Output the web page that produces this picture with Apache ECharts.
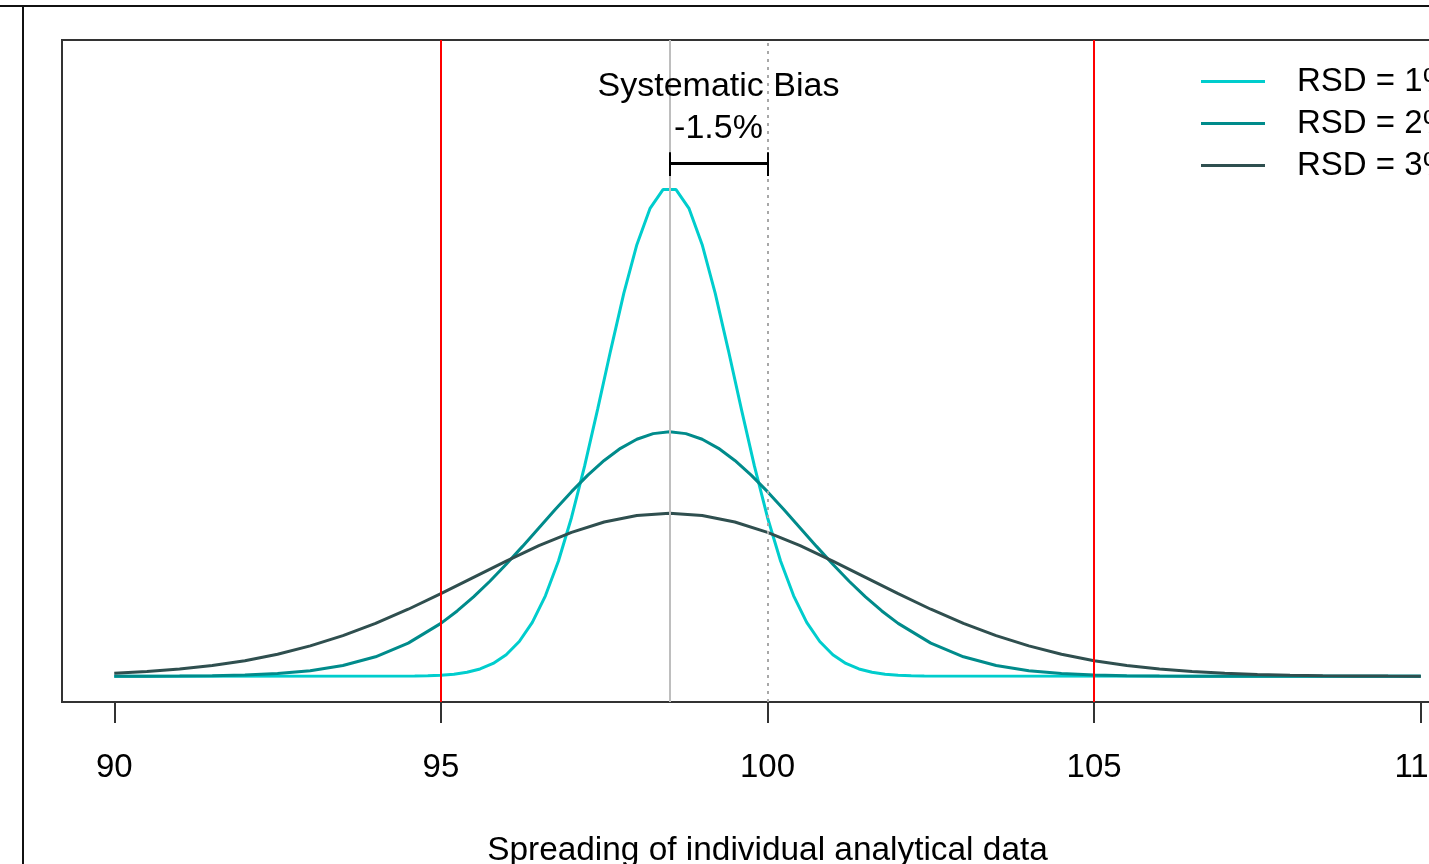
<!DOCTYPE html>
<html>
<head>
<meta charset="utf-8">
<script src="https://cdn.jsdelivr.net/npm/echarts@6/dist/echarts.min.js"></script>
<style>
  html, body { margin: 0; padding: 0; overflow: hidden; background: #fff; }
  #chart { width: 1500px; height: 864px; }
</style>
</head>
<body>
<div id="chart"></div>
<script>
// ---- data ----
const seriesNames = ['RSD = 1%', 'RSD = 2%', 'RSD = 3%'];
const xTicks = [90, 95, 100, 105, 110];

// RSD = 1% curve
const x1 = [90, 94.6, 94.8, 95, 95.2, 95.4, 95.6, 95.8, 96, 96.2, 96.4, 96.6, 96.8, 97, 97.2, 97.4, 97.6, 97.8, 98, 98.2, 98.4,
            98.6, 98.8, 99, 99.2, 99.4, 99.6, 99.8, 100, 100.2, 100.4, 100.6, 100.8, 101, 101.2, 101.4, 101.6, 101.8, 102, 102.2, 102.4, 110];
const y1 = [0, 0.0002, 0.00042, 0.00087, 0.00172, 0.00327, 0.00595, 0.01042, 0.01753, 0.02833, 0.04398, 0.06562, 0.09405, 0.12952, 0.17137, 0.21785, 0.26609, 0.31225, 0.35207, 0.38139, 0.39695,
            0.39695, 0.38139, 0.35207, 0.31225, 0.26609, 0.21785, 0.17137, 0.12952, 0.09405, 0.06562, 0.04398, 0.02833, 0.01753, 0.01042, 0.00595, 0.00327, 0.00172, 0.00087, 0.00042, 0.0002, 0];

// RSD = 2% curve
const x2 = [90, 90.5, 91, 91.5, 92, 92.5, 93, 93.5, 94, 94.5, 95,
            95.25, 95.5, 95.75, 96, 96.25, 96.5, 96.75, 97, 97.25, 97.5, 97.75, 98, 98.25, 98.5,
            98.75, 99, 99.25, 99.5, 99.75, 100, 100.25, 100.5, 100.75, 101, 101.25, 101.5, 101.75,
            102, 102.5, 103, 103.5, 104, 104.5, 105, 105.5, 106, 106.5, 107, 107.5, 108, 108.5, 109, 109.5, 110];
const y2 = [0.00002, 0.00007, 0.00018, 0.00044, 0.00101, 0.00222, 0.00455, 0.00876, 0.01587, 0.02700, 0.04314,
            0.05327, 0.06476, 0.07751, 0.09132, 0.10594, 0.12099, 0.13603, 0.15057, 0.16408, 0.17603, 0.18593, 0.19333, 0.19792, 0.19947,
            0.19792, 0.19333, 0.18593, 0.17603, 0.16408, 0.15057, 0.13603, 0.12099, 0.10594, 0.09132, 0.07751, 0.06476, 0.05327,
            0.04314, 0.02700, 0.01587, 0.00876, 0.00455, 0.00222, 0.00101, 0.00044, 0.00018, 0.00007, 0.00002, 0, 0, 0, 0, 0, 0];

// RSD = 3% curve
const x3 = [90, 90.5, 91, 91.5, 92, 92.5, 93, 93.5, 94, 94.5, 95, 95.5, 96, 96.5, 97, 97.5, 98, 98.5, 99, 99.5, 100,
            100.5, 101, 101.5, 102, 102.5, 103, 103.5, 104, 104.5, 105, 105.5, 106, 106.5, 107, 107.5, 108, 108.5, 109, 109.5, 110];
const y3 = [0.00240, 0.00380, 0.00584, 0.00874, 0.01272, 0.01800, 0.02477, 0.03316, 0.04317, 0.05467, 0.06733, 0.08066, 0.09397, 0.10648, 0.11736, 0.12579, 0.13115, 0.13298, 0.13115, 0.12579, 0.11736,
            0.10648, 0.09397, 0.08066, 0.06733, 0.05467, 0.04317, 0.03316, 0.02477, 0.01800, 0.01272, 0.00874, 0.00584, 0.00380, 0.00240, 0.00148, 0.00088, 0.00051, 0.00029, 0.00016, 0.00009];

const limits = [95, 105];
const meanValue = 98.5;
const targetValue = 100;
const biasTexts = ['Systematic Bias', '-1.5%'];
const axisTitle = 'Spreading of individual analytical data';

// ---- chart ----
const FONT = '"Liberation Sans", Arial, sans-serif';
const colors = ['#00CDCD', '#008B8B', '#2F4F4F'];
const pairs = (xs, ys) => xs.map((x, i) => [x, ys[i]]);

const chart = echarts.init(document.getElementById('chart'), null, { renderer: 'canvas' });

const curve = (name, data, color) => ({
  name, type: 'line', data, symbol: 'none', showSymbol: false, smooth: false, z: 3,
  lineStyle: { color, width: 3 }, itemStyle: { color }
});

const option = {
  animation: false,
  backgroundColor: '#fff',
  textStyle: { fontFamily: FONT },
  grid: {
    left: 62, top: 40, width: 1411, height: 662, show: true,
    borderColor: '#333', borderWidth: 2, backgroundColor: 'transparent',
    outerBoundsMode: 'none', containLabel: false
  },
  xAxis: {
    type: 'value', min: 89.2, max: 110.8,
    axisLine: { show: false, onZero: false }, splitLine: { show: false },
    axisTick: { show: true, inside: false, customValues: xTicks, length: 21, lineStyle: { color: '#333', width: 2 } },
    axisLabel: { customValues: xTicks, fontSize: 33, color: '#000', margin: 49, fontFamily: FONT },
    name: axisTitle, nameLocation: 'middle', nameGap: 132,
    nameTextStyle: { fontSize: 33.4, color: '#000', fontFamily: FONT }
  },
  yAxis: { type: 'value', min: -0.021, max: 0.519, show: false },
  legend: {
    data: seriesNames, orient: 'vertical', left: 1201, top: 65, padding: 0,
    icon: 'rect', itemWidth: 64, itemHeight: 3, itemGap: 9,
    textStyle: { fontSize: 33, color: '#000', fontFamily: FONT, lineHeight: 33, padding: [0, 0, 0, 27] }
  },
  graphic: [
    { type: 'line', shape: { x1: 0, y1: 6, x2: 1500, y2: 6 }, style: { stroke: '#111', lineWidth: 2 } },
    { type: 'line', shape: { x1: 23, y1: 6, x2: 23, y2: 864 }, style: { stroke: '#111', lineWidth: 2 } }
  ],
  series: [
    curve(seriesNames[0], pairs(x1, y1), colors[0]),
    curve(seriesNames[1], pairs(x2, y2), colors[1]),
    curve(seriesNames[2], pairs(x3, y3), colors[2]),
    {
      name: 'refs', type: 'line', data: [], z: 5,
      markLine: {
        silent: true, symbol: ['none', 'none'], label: { show: false }, animation: false, z: 5,
        data: [
          { xAxis: limits[0], lineStyle: { color: '#FF0000', width: 2, type: 'solid' } },
          { xAxis: limits[1], lineStyle: { color: '#FF0000', width: 2, type: 'solid' } },
          { xAxis: meanValue, lineStyle: { color: '#BEBEBE', width: 2, type: 'solid' } },
          { xAxis: targetValue, lineStyle: { color: '#A8A8A8', width: 2, type: [3, 5] } },
          [{ coord: [meanValue, 0.4186], lineStyle: { color: '#000', width: 3, type: 'solid' } }, { coord: [targetValue, 0.4186] }],
          [{ coord: [meanValue, 0.4275], lineStyle: { color: '#000', width: 2, type: 'solid' } }, { coord: [meanValue, 0.408] }],
          [{ coord: [targetValue, 0.4275], lineStyle: { color: '#000', width: 2, type: 'solid' } }, { coord: [targetValue, 0.408] }]
        ]
      }
    },
    {
      name: 'annot', type: 'scatter', symbolSize: 0, z: 6, silent: true,
      itemStyle: { color: '#000', opacity: 1 },
      data: [
        { name: biasTexts[0], value: [(meanValue + targetValue) / 2, 0.481] },
        { name: biasTexts[1], value: [(meanValue + targetValue) / 2, 0.4463] }
      ],
      label: { show: true, position: 'inside', formatter: '{b}', fontSize: 34, color: '#000', opacity: 1,
               textBorderWidth: 0, fontFamily: FONT }
    }
  ]
};
chart.setOption(option);
</script>
</body>
</html>
